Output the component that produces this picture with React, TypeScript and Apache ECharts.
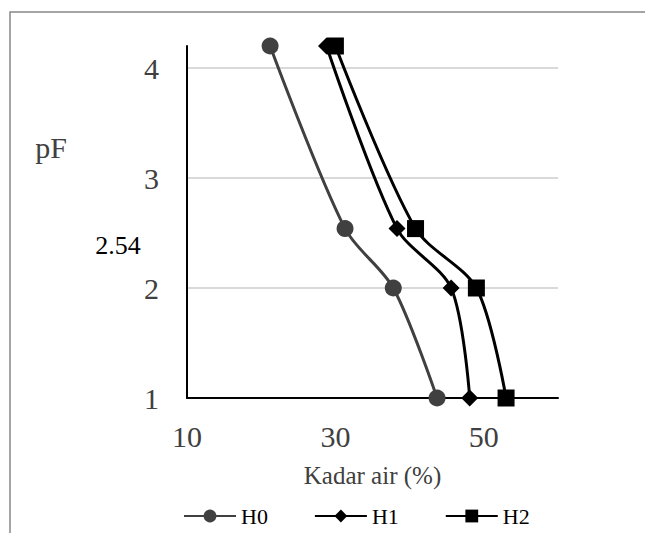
import React, { useEffect, useRef } from "react";
import * as echarts from "echarts";

const pF = [1, 2, 2.54, 4.2];
const H0 = [43.7, 37.8, 31.3, 21.2];
const H1 = [48.1, 45.6, 38.3, 28.8];
const H2 = [53.0, 49.0, 40.8, 30.0];
const seriesNames = ["H0", "H1", "H2"];
const xTickLabels = [10, 30, 50];
const yTickLabels = [1, 2, 3, 4];
const annotation = "2.54";
const yName = "pF";
const xName = "Kadar air (%)";

const FONT = "Liberation Serif, serif";

export default function App() {
  const ref = useRef<HTMLDivElement>(null);
  useEffect(() => {
    document.body.style.margin = "0";
    const chart = echarts.init(ref.current!, null, { renderer: "svg" });
    const toPts = (xs: number[]) => xs.map((x, i) => [x, pF[i]]);
    const common = {
      type: "line",
      smooth: 0.3,
      symbolSize: 17,
      lineStyle: { width: 3 },
    };
    chart.setOption({
      animation: false,
      backgroundColor: "#fff",
      textStyle: { fontFamily: FONT },
      grid: { left: 187, right: 87, top: 46, bottom: 135 },
      xAxis: {
        type: "value",
        min: 10,
        max: 60,
        interval: 10,
        name: xName,
        nameLocation: "middle",
        nameGap: 65,
        nameTextStyle: { fontFamily: FONT, fontSize: 25, color: "#404040" },
        axisLine: { show: true, lineStyle: { color: "#000", width: 2 } },
        axisTick: { show: false },
        splitLine: { show: false },
        axisLabel: {
          margin: 23,
          fontFamily: FONT,
          fontSize: 30,
          color: "#404040",
          formatter: (v: number) => (xTickLabels.includes(v) ? String(v) : ""),
        },
      },
      yAxis: {
        type: "value",
        min: 1,
        max: 4.2,
        interval: 1,
        axisLine: { show: true, lineStyle: { color: "#000", width: 2 } },
        axisTick: { show: false },
        splitLine: {
          show: true,
          showMaxLine: false,
          lineStyle: { color: "#d9d9d9", width: 2 },
        },
        axisLabel: {
          margin: 28,
          fontFamily: FONT,
          fontSize: 30,
          color: "#404040",
          showMaxLabel: false,
          formatter: (v: number) => (yTickLabels.includes(v) ? String(v) : ""),
        },
      },
      legend: {
        left: 178,
        top: 500,
        itemWidth: 52,
        itemHeight: 16,
        itemGap: 46,
        textStyle: { fontFamily: FONT, fontSize: 22, color: "#000" },
        data: seriesNames,
      },
      graphic: [
        {
          type: "rect",
          shape: { x: 10, y: 12, width: 700, height: 600 },
          style: { fill: "none", stroke: "#888", lineWidth: 1.5 },
          silent: true,
        },
        {
          type: "text",
          x: 51,
          y: 147,
          style: {
            text: yName,
            fontFamily: FONT,
            fontSize: 30,
            fill: "#404040",
            align: "center",
            verticalAlign: "middle",
          },
        },
        {
          type: "text",
          x: 118,
          y: 245,
          style: {
            text: annotation,
            fontFamily: FONT,
            fontSize: 26,
            fill: "#000",
            align: "center",
            verticalAlign: "middle",
          },
        },
      ],
      series: [
        {
          ...common,
          name: seriesNames[0],
          data: toPts(H0),
          symbol: "circle",
          itemStyle: { color: "#404040" },
          lineStyle: { width: 3, color: "#404040" },
        },
        {
          ...common,
          name: seriesNames[1],
          data: toPts(H1),
          symbol: "diamond",
          itemStyle: { color: "#000" },
          lineStyle: { width: 3, color: "#000" },
        },
        {
          ...common,
          name: seriesNames[2],
          data: toPts(H2),
          symbol: "rect",
          itemStyle: { color: "#000" },
          lineStyle: { width: 3, color: "#000" },
        },
      ],
    });
    return () => chart.dispose();
  }, []);
  return <div ref={ref} style={{ width: 645, height: 533 }} />;
}
